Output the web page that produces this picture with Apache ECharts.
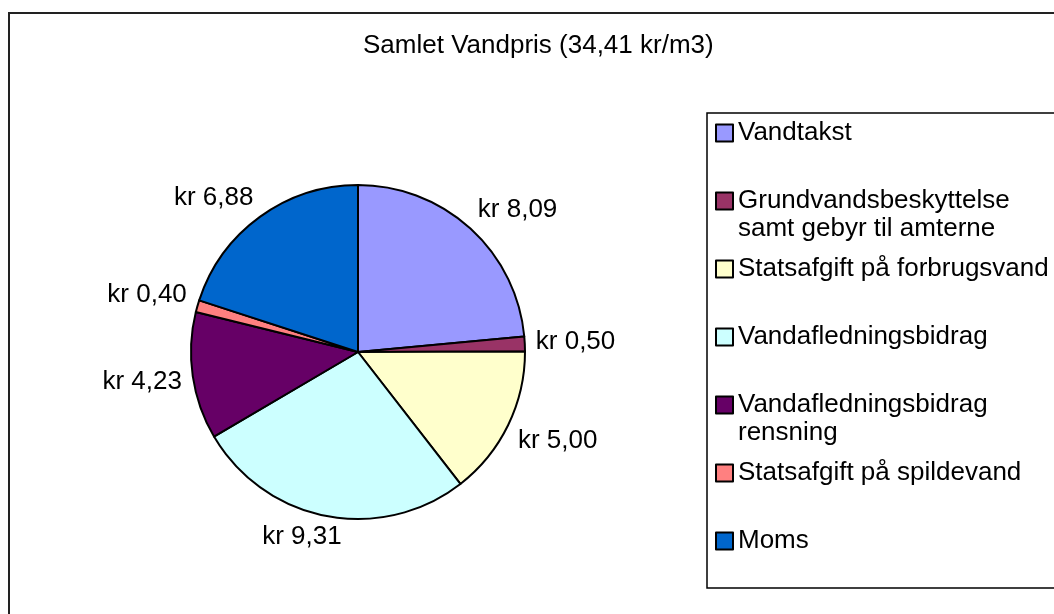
<!DOCTYPE html>
<html>
<head>
<meta charset="utf-8" />
<title>Samlet Vandpris</title>
<script src="https://cdn.jsdelivr.net/npm/echarts@6/dist/echarts.min.js"></script>
<style>
  html, body { margin: 0; padding: 0; background: #fff; }
  #main { width: 1054px; height: 614px; }
</style>
</head>
<body>
<div id="main"></div>
<script>
// data (kr pr. m3)
var categories = [
  'Vandtakst',
  'Grundvandsbeskyttelse samt gebyr til amterne',
  'Statsafgift på forbrugsvand',
  'Vandafledningsbidrag',
  'Vandafledningsbidrag rensning',
  'Statsafgift på spildevand',
  'Moms'
];
var legendLabels = [
  'Vandtakst',
  'Grundvandsbeskyttelse\nsamt gebyr til amterne',
  'Statsafgift på forbrugsvand',
  'Vandafledningsbidrag',
  'Vandafledningsbidrag\nrensning',
  'Statsafgift på spildevand',
  'Moms'
];
var values = [8.09, 0.50, 5.00, 9.31, 4.23, 0.40, 6.88];
var colors = ['#9999FF', '#993366', '#FFFFCC', '#CCFFFF', '#660066', '#FF8080', '#0066CC'];
var titleText = 'Samlet Vandpris (34,41 kr/m3)';

var FONT = "'Liberation Sans', Arial, sans-serif";
var CX = 358, CY = 352, RADIUS = 167, LABEL_R = 178;

var total = 0;
for (var i = 0; i < values.length; i++) total += values[i];

var pieData = [];
for (var i = 0; i < values.length; i++) {
  pieData.push({ name: categories[i], value: values[i], itemStyle: { color: colors[i] } });
}

function kr(v) {
  return 'kr ' + v.toFixed(2).replace('.', ',');
}
function clamp1(v) {
  return Math.max(-1, Math.min(1, v));
}

var myChart = echarts.init(document.getElementById('main'), null, { renderer: 'canvas' });

var option = {
  animation: false,
  backgroundColor: '#fff',
  title: {
    text: titleText,
    left: 358,
    top: 28,
    textStyle: { fontFamily: FONT, fontSize: 26, fontWeight: 'normal', color: '#000' }
  },
  legend: {
    orient: 'vertical',
    left: 707,
    top: 113,
    padding: [-22, 8, 5, 8],
    itemGap: -16,
    itemWidth: 17,
    itemHeight: 17,
    icon: 'rect',
    selectedMode: false,
    borderColor: '#000',
    borderWidth: 1.5,
    data: categories,
    // three text lines per entry, the first one empty, so the icon sits on the label's first line
    formatter: function (name) {
      var t = legendLabels[categories.indexOf(name)];
      return t.indexOf('\n') < 0 ? '\n' + t + '\n' : '\n' + t;
    },
    textStyle: {
      fontFamily: FONT,
      fontSize: 26,
      color: '#000',
      lineHeight: 28
    }
  },
  graphic: [{
    type: 'rect',
    z: -1,
    shape: { x: 9, y: 13, width: 1200, height: 800 },
    style: { fill: 'none', stroke: '#222', lineWidth: 2 }
  }],
  series: [{
    type: 'pie',
    center: [CX, CY],
    radius: RADIUS,
    startAngle: 90,
    clockwise: true,
    avoidLabelOverlap: false,
    itemStyle: { borderColor: '#000', borderWidth: 2 },
    emphasis: { disabled: true },
    label: {
      show: true,
      position: 'outside',
      fontFamily: FONT,
      fontSize: 26,
      color: '#000',
      formatter: function (p) { return kr(p.value); }
    },
    labelLine: { show: false },
    labelLayout: function (p) {
      var before = 0;
      for (var k = 0; k < p.dataIndex; k++) before += values[k];
      var mid = (before + values[p.dataIndex] / 2) / total * 2 * Math.PI;
      var dx = Math.sin(mid), dy = -Math.cos(mid);
      var w = p.labelRect.width, h = p.labelRect.height;
      return {
        x: CX + LABEL_R * dx + clamp1(3 * dx) * w / 2,
        y: CY + LABEL_R * dy + clamp1(3 * dy) * h * 0.4,
        align: 'center',
        verticalAlign: 'middle'
      };
    },
    data: pieData
  }]
};

myChart.setOption(option);
</script>
</body>
</html>
